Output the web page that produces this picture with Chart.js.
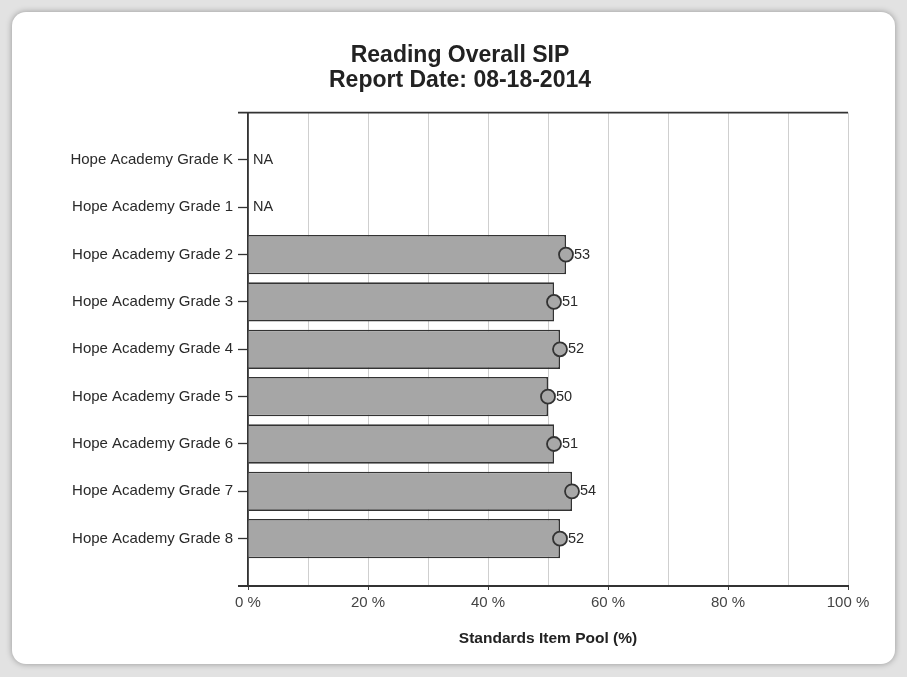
<!DOCTYPE html>
<html>
<head>
<meta charset="utf-8">
<script src="https://cdn.jsdelivr.net/npm/chart.js@4"></script>
<style>
  html, body { margin: 0; padding: 0; }
  body { width: 907px; height: 677px; background: #e2e2e2; position: relative; overflow: hidden; }
  .card { position: absolute; left: 12px; top: 12px; width: 883px; height: 652px;
          background: #fff; border-radius: 14px; box-shadow: 0 0 6px rgba(0,0,0,0.35); }
  #wrap { position: absolute; left: 0; top: 0; width: 907px; height: 677px; }
</style>
</head>
<body>
<div class="card"></div>
<div id="wrap"><canvas id="sipChart"></canvas></div>
<script>
// datos del grafico
const grades = [
  "Hope Academy Grade K",
  "Hope Academy Grade 1",
  "Hope Academy Grade 2",
  "Hope Academy Grade 3",
  "Hope Academy Grade 4",
  "Hope Academy Grade 5",
  "Hope Academy Grade 6",
  "Hope Academy Grade 7",
  "Hope Academy Grade 8",
];
const sipValues = [null, null, 53, 51, 52, 50, 51, 54, 52];
const xTicks = [0, 20, 40, 60, 80, 100];
const titleLines = ["Reading Overall SIP", "Report Date: 08-18-2014"];
const xTitle = "Standards Item Pool (%)";

const FONT = "'Liberation Sans', Arial, sans-serif";
const points = sipValues.map((v, i) => ({ x: v, y: i }));

// etiquetas de valor y NA
const valueLabels = {
  id: "valueLabels",
  afterDatasetsDraw(chart) {
    const { ctx } = chart;
    const xScale = chart.scales.x;
    const yScale = chart.scales.y;
    ctx.save();
    ctx.font = "14.5px " + FONT;
    ctx.fillStyle = "#2a2a2a";
    ctx.textBaseline = "middle";
    ctx.textAlign = "left";
    sipValues.forEach((v, i) => {
      const y = yScale.getPixelForValue(i);
      if (v === null) {
        ctx.fillText("NA", xScale.getPixelForValue(0) + 5, y);
      } else {
        ctx.fillText(String(v), xScale.getPixelForValue(v) + 8, y);
      }
    });
    ctx.restore();
  },
};

// marco superior y extensiones; titulo centrado en la tarjeta
const frame = {
  id: "frame",
  afterLayout(chart) {
    const t = chart.titleBlock;
    if (t) { t.left += 16; t.right += 16; }
  },
  afterDraw(chart) {
    const { ctx, chartArea } = chart;
    ctx.save();
    ctx.strokeStyle = "#333";
    ctx.lineWidth = 1.8;
    ctx.beginPath();
    ctx.moveTo(chartArea.left - 10, chartArea.top);
    ctx.lineTo(chartArea.right, chartArea.top);
    ctx.moveTo(chartArea.left - 10, chartArea.bottom);
    ctx.lineTo(chartArea.left, chartArea.bottom);
    ctx.stroke();
    ctx.restore();
  },
};

new Chart(document.getElementById("sipChart"), {
  data: {
    datasets: [
      {
        type: "line",
        data: points,
        showLine: false,
        pointRadius: 7,
        pointHoverRadius: 7,
        pointBackgroundColor: "#a8a8a8",
        pointBorderColor: "#333",
        pointBorderWidth: 1.8,
      },
      {
        type: "bar",
        data: points,
        backgroundColor: "#a6a6a6",
        borderColor: "#333",
        borderWidth: 1.6,
        borderSkipped: "left",
        categoryPercentage: 1,
        barPercentage: 0.83,
      },
    ],
  },
  options: {
    indexAxis: "y",
    responsive: true,
    maintainAspectRatio: false,
    animation: false,
    layout: { padding: { left: 40, right: 59, top: 43, bottom: 29 } },
    plugins: {
      legend: { display: false },
      tooltip: { enabled: false },
      title: {
        display: true,
        text: titleLines,
        color: "#222",
        font: { family: FONT, size: 23, weight: "bold", lineHeight: 1.1 },
        padding: { top: 0, bottom: 19 },
      },
    },
    scales: {
      y: {
        type: "linear",
        reverse: true,
        offset: false,
        min: -1,
        max: 9,
        afterFit: (scale) => { scale.width = 208; },
        afterBuildTicks: (scale) => {
          scale.ticks = grades.map((_, i) => ({ value: i }));
        },
        ticks: {
          callback: (v) => grades[v],
          color: "#2a2a2a",
          padding: 5,
          font: { family: FONT, size: 15 },
        },
        grid: { offset: false, drawOnChartArea: false, tickLength: 10, tickColor: "#333", tickWidth: 1.3 },
        border: { color: "#333", width: 1.8 },
      },
      x: {
        type: "linear",
        min: 0,
        max: 100,
        afterFit: (scale) => { scale.height = 62; },
        afterBuildTicks: (scale) => {
          const t = [];
          for (let v = 0; v <= 100; v += 10) t.push({ value: v });
          scale.ticks = t;
        },
        ticks: {
          callback: (v) => (xTicks.includes(v) ? v + " %" : ""),
          color: "#444",
          maxRotation: 0,
          autoSkip: false,
          padding: 4,
          font: { family: FONT, size: 15 },
        },
        grid: {
          color: "#cfcfcf",
          tickLength: 4,
          tickColor: (c) => (c.tick && xTicks.includes(c.tick.value) ? "#444" : "rgba(0,0,0,0)"),
        },
        border: { color: "#333", width: 2 },
        title: {
          display: true,
          text: xTitle,
          color: "#222",
          font: { family: FONT, size: 15.5, weight: "bold" },
          padding: { top: 16, bottom: 0 },
        },
      },
    },
  },
  plugins: [valueLabels, frame],
});
</script>
</body>
</html>
